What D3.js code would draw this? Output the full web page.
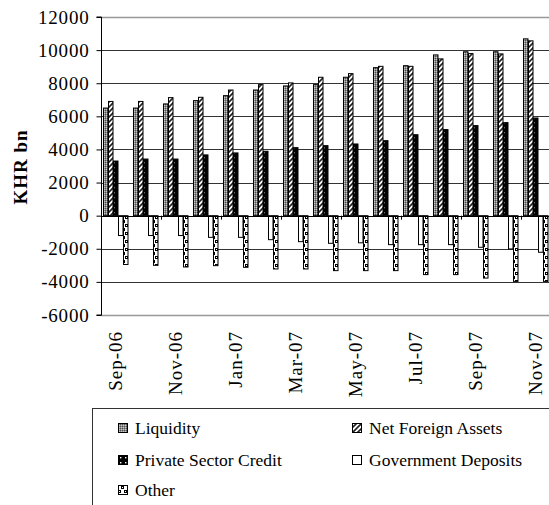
<!DOCTYPE html>
<html>
<head>
<meta charset="utf-8">
<script src="https://cdn.jsdelivr.net/npm/d3@7"></script>
<style>
  body { margin: 0; background: #fff; }
  svg text { font-family: "Liberation Serif", "Times New Roman", "DejaVu Serif", serif !important; fill: #000; }
</style>
</head>
<body>
<script>
// ---- data (KHR bn) ----
var months = ["Sep-06","Oct-06","Nov-06","Dec-06","Jan-07","Feb-07","Mar-07","Apr-07",
              "May-07","Jun-07","Jul-07","Aug-07","Sep-07","Oct-07","Nov-07"];
var liquidity  = [6500,6500,6750,6950,7250,7590,7835,7915,8360,8940,9060,9710,9900,9900,10680];
var netForeign = [6900,6900,7130,7150,7590,7915,8020,8360,8580,9020,9020,9470,9790,9770,10560];
var privCredit = [3300,3420,3420,3670,3790,3890,4110,4230,4330,4530,4890,5200,5440,5620,5900];
var govDeposit = [-1200,-1200,-1200,-1310,-1310,-1450,-1570,-1670,-1640,-1750,-1750,-1750,-1910,-2010,-2210];
var other      = [-2950,-3000,-3100,-3020,-3120,-3220,-3220,-3320,-3320,-3320,-3560,-3560,-3770,-3970,-3970];
var seriesNames = ["Liquidity","Net Foreign Assets","Private Sector Credit","Government Deposits","Other"];
var yTicks = [-6000,-4000,-2000,0,2000,4000,6000,8000,10000,12000];

var series = [liquidity, netForeign, privCredit, govDeposit, other];

var W = 549, H = 505;
var svg = d3.select("body").append("svg").attr("width", W).attr("height", H);

// ---- fill patterns (Excel style) ----
var defs = svg.append("defs");
function pat(id, w, h) {
    return defs.append("pattern").attr("id", id).attr("patternUnits", "userSpaceOnUse")
        .attr("width", w).attr("height", h);
}
var p0 = pat("p-liq", 2, 2);
p0.append("rect").attr("width", 2).attr("height", 2).attr("fill", "#8c8c8c");
p0.append("rect").attr("width", 1).attr("height", 1).attr("fill", "#505050");
p0.append("rect").attr("x", 1).attr("y", 1).attr("width", 1).attr("height", 1).attr("fill", "#c8c8c8");

var p1 = pat("p-nfa", 5, 5);
p1.append("rect").attr("width", 5).attr("height", 5).attr("fill", "#fff");
p1.append("path").attr("d", "M-1,6 L6,-1 M-1,1 L1,-1 M4,6 L6,4").attr("stroke", "#222").attr("stroke-width", 1.6);

var p2 = pat("p-psc", 5, 5);
p2.append("rect").attr("width", 5).attr("height", 5).attr("fill", "#000");
p2.append("rect").attr("x", 2).attr("y", 2).attr("width", 1.4).attr("height", 1.4).attr("fill", "#fff");

var p4 = pat("p-oth", 6, 8);
p4.append("rect").attr("width", 6).attr("height", 8).attr("fill", "#fff");
p4.append("rect").attr("x", 0).attr("y", 0).attr("width", 3).attr("height", 3).attr("fill", "#000");
p4.append("rect").attr("x", 3).attr("y", 4).attr("width", 3).attr("height", 3).attr("fill", "#000");
p4.append("rect").attr("x", 1).attr("y", 1).attr("width", 1).attr("height", 1).attr("fill", "#fff");
p4.append("rect").attr("x", 4).attr("y", 5).attr("width", 1).attr("height", 1).attr("fill", "#fff");

var fills = ["url(#p-liq)", "url(#p-nfa)", "url(#p-psc)", "#fff", "url(#p-oth)"];

// ---- scales ----
var y = d3.scaleLinear().domain([-6000, 12000]).range([315, 17]);
var x = d3.scaleBand().domain(months).range([101, 551]).padding(0);
var x1 = d3.scaleBand().domain(d3.range(5)).range([2, 27]).padding(0);

// gridlines
svg.append("g").selectAll("line")
    .data(yTicks)
    .join("line")
        .attr("x1", 101).attr("x2", 560)
        .attr("y1", function(d) { return Math.round(y(d)) + 0.5; })
        .attr("y2", function(d) { return Math.round(y(d)) + 0.5; })
        .attr("stroke", function(d) { return (d === 12000 || d === -6000) ? "#999" : "#333"; })
        .attr("stroke-width", function(d) { return (d === 12000 || d === -6000) ? 1.6 : 1; });

// bars
var groups = svg.append("g").selectAll("g")
    .data(months)
    .join("g")
        .attr("transform", function(d) { return "translate(" + x(d) + ",0)"; });

groups.selectAll("rect")
    .data(function(d, i) { return series.map(function(s, k) { return { k: k, v: s[i] }; }); })
    .join("rect")
        .attr("x", function(d) { return x1(d.k) + 0.5; })
        .attr("width", x1.bandwidth() - 0.5)
        .attr("y", function(d) { return y(Math.max(0, d.v)); })
        .attr("height", function(d) { return Math.abs(y(d.v) - y(0)); })
        .attr("fill", function(d) { return fills[d.k]; })
        .attr("stroke", "#000")
        .attr("stroke-width", 1);

// zero line (category axis)
svg.append("line")
    .attr("x1", 101).attr("x2", 560)
    .attr("y1", Math.round(y(0)) + 0.5).attr("y2", Math.round(y(0)) + 0.5)
    .attr("stroke", "#000");

// category ticks every second band
svg.append("g").selectAll("line")
    .data(d3.range(0, months.length, 2))
    .join("line")
        .attr("x1", function(i) { return x(months[i]) + 0.5; })
        .attr("x2", function(i) { return x(months[i]) + 0.5; })
        .attr("y1", y(0)).attr("y2", y(0) + 4)
        .attr("stroke", "#000");

// y axis
var yAxis = svg.append("g")
    .attr("transform", "translate(101.5,0)")
    .call(d3.axisLeft(y).tickValues(yTicks).tickSize(5).tickPadding(7)
        .tickFormat(function(d) { return String(d); }));
yAxis.attr("font-family", null).attr("font-size", null);
yAxis.select(".domain").attr("stroke", "#000").attr("d", "M-5," + y(12000) + "H0V" + y(-6000) + "H-5");
yAxis.selectAll(".tick line").attr("stroke", "#000");
yAxis.selectAll("text")
    .style("font-size", "19px")
    .style("letter-spacing", "0.8px")
    .attr("fill", "#000");

svg.append("text")
    .attr("transform", "translate(27,167) rotate(-90)")
    .attr("text-anchor", "middle")
    .style("font-weight", "bold")
    .style("font-size", "19px")
    .style("letter-spacing", "1px")
    .text("KHR bn");

// x labels (every second month)
svg.append("g").selectAll("text")
    .data(months.filter(function(d, i) { return i % 2 === 0; }))
    .join("text")
        .attr("transform", function(d) { return "translate(" + (x(d) + x.bandwidth() / 2) + ",331) rotate(-90)"; })
        .attr("text-anchor", "end")
        .attr("dy", "0.33em")
        .style("font-size", "19px")
        .style("letter-spacing", "1px")
        .text(function(d) { return d; });

// legend
var leg = svg.append("g");
leg.append("rect")
    .attr("x", 92.5).attr("y", 408.5).attr("width", 480).attr("height", 120)
    .attr("fill", "#fff").attr("stroke", "#333");

var legPos = [[118, 428], [352, 428], [118, 460], [352, 460], [118, 490]];
var items = leg.selectAll("g")
    .data(seriesNames)
    .join("g")
        .attr("transform", function(d, i) { return "translate(" + legPos[i][0] + "," + legPos[i][1] + ")"; });
items.append("rect")
    .attr("x", 0.5).attr("y", -4.5).attr("width", 9).attr("height", 9)
    .attr("fill", function(d, i) { return fills[i]; })
    .attr("stroke", "#000").attr("stroke-width", 1);
items.append("text")
    .attr("x", 17).attr("y", 6)
    .style("font-size", "17.5px")
    .text(function(d) { return d; });
</script>
</body>
</html>
